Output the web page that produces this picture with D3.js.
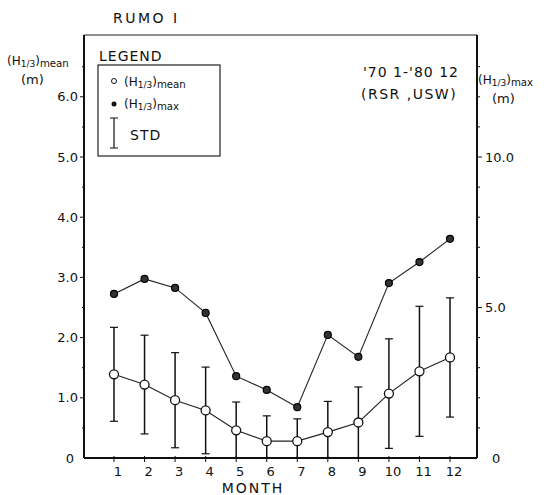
<!DOCTYPE html>
<html>
<head>
<meta charset="utf-8">
<script src="https://cdn.jsdelivr.net/npm/d3@7"></script>
<style>
  body { margin: 0; background: #fff; }
  svg { font-family: "DejaVu Sans", sans-serif; }
</style>
</head>
<body>
<div id="okvir"></div>
<script>
// monthly values
const months = [1, 2, 3, 4, 5, 6, 7, 8, 9, 10, 11, 12];
const meanH = [1.39, 1.22, 0.96, 0.79, 0.46, 0.28, 0.28, 0.43, 0.59, 1.07, 1.44, 1.67];
const stdH = [0.78, 0.82, 0.79, 0.72, 0.47, 0.42, 0.37, 0.51, 0.59, 0.91, 1.08, 0.99];
const maxH = [5.45, 5.95, 5.65, 4.82, 2.72, 2.26, 1.69, 4.09, 3.36, 5.81, 6.51, 7.28];
const leftTicks = [0, 1, 2, 3, 4, 5, 6];
const leftTickLabels = ["0", "1.0", "2.0", "3.0", "4.0", "5.0", "6.0"];
const rightTicks = [0, 5, 10];
const rightTickLabels = ["0", "5.0", "10.0"];

const sirina = 547, visina = 495;
const gr = { left: 84, right: 477, top: 35, bottom: 458 };

const svg = d3.select("#okvir").append("svg")
  .attr("width", sirina).attr("height", visina);

const x = d3.scaleLinear().domain([0, 12]).range([84, 450.5]);
// rescale so month 1 -> 114, month 12 -> 450
x.domain([(84 - 114) / 30.55 + 1, 12]).range([84, 450]);

const yL = d3.scaleLinear().domain([0, 7]).range([gr.bottom, gr.bottom - 7 * 60.2]);
const yR = d3.scaleLinear().domain([0, 14]).range([gr.bottom, gr.bottom - 7 * 60.2]);

// frame: thin top line
svg.append("line")
  .attr("x1", gr.left).attr("x2", gr.right).attr("y1", gr.top).attr("y2", gr.top)
  .attr("stroke", "#222").attr("stroke-width", 1.2);

// left axis
const leftAx = svg.append("g").attr("transform", `translate(${gr.left},0)`)
  .call(d3.axisLeft(yL).tickValues(d3.range(0, 7.01, 0.5)).tickSize(0).tickFormat(""));
leftAx.select(".domain").remove();
svg.append("line")
  .attr("x1", gr.left).attr("x2", gr.left).attr("y1", gr.top).attr("y2", gr.bottom)
  .attr("stroke", "#111").attr("stroke-width", 2);
svg.append("g").selectAll("line")
  .data(d3.range(0.5, 7, 0.5))
  .join("line")
  .attr("x1", d => d % 1 === 0 ? gr.left - 4 : gr.left - 2).attr("x2", gr.left)
  .attr("y1", d => yL(d)).attr("y2", d => yL(d))
  .attr("stroke", "#111").attr("stroke-width", 1);
svg.append("g").selectAll("text")
  .data(leftTicks)
  .join("text")
  .attr("x", d => d === 0 ? 74 : 78)
  .attr("y", d => yL(d))
  .attr("dy", "0.35em")
  .attr("text-anchor", "end")
  .attr("font-size", 13)
  .attr("fill", "#111")
  .text((d, i) => leftTickLabels[i]);

// right axis
svg.append("line")
  .attr("x1", gr.right).attr("x2", gr.right).attr("y1", gr.top).attr("y2", gr.bottom)
  .attr("stroke", "#111").attr("stroke-width", 2);
svg.append("g").selectAll("line")
  .data(d3.range(1, 14, 1))
  .join("line")
  .attr("x1", gr.right).attr("x2", d => d % 5 === 0 ? gr.right + 5 : gr.right + 3)
  .attr("y1", d => yR(d)).attr("y2", d => yR(d))
  .attr("stroke", "#111").attr("stroke-width", 1);
svg.append("g").selectAll("text")
  .data(rightTicks)
  .join("text")
  .attr("x", d => d === 0 ? 492 : 485)
  .attr("y", d => yR(d))
  .attr("dy", "0.35em")
  .attr("font-size", 13)
  .attr("fill", "#111")
  .text((d, i) => rightTickLabels[i]);

// bottom axis
svg.append("line")
  .attr("x1", gr.left).attr("x2", gr.right).attr("y1", gr.bottom).attr("y2", gr.bottom)
  .attr("stroke", "#111").attr("stroke-width", 2);
svg.append("g").selectAll("line")
  .data(months)
  .join("line")
  .attr("x1", d => x(d)).attr("x2", d => x(d))
  .attr("y1", gr.bottom - 2).attr("y2", gr.bottom + 4)
  .attr("stroke", "#111").attr("stroke-width", 1);
svg.append("g").selectAll("text")
  .data(months)
  .join("text")
  .attr("x", d => x(d) + 4)
  .attr("y", gr.bottom + 18)
  .attr("text-anchor", "middle")
  .attr("font-size", 13)
  .attr("fill", "#111")
  .text(d => d);
svg.append("text")
  .attr("x", 253).attr("y", 493)
  .attr("text-anchor", "middle")
  .attr("font-size", 14)
  .attr("letter-spacing", 2)
  .attr("fill", "#111")
  .text("MONTH");

// helper for H1/3 labels
function hLabel(g, xx, yy, sub, size) {
  const t = g.append("text").attr("x", xx).attr("y", yy)
    .attr("font-size", size).attr("fill", "#111");
  t.append("tspan").text("(H");
  t.append("tspan").attr("font-size", size * 0.75).attr("dy", 2).text("1/3");
  t.append("tspan").attr("dy", -2).text(")");
  t.append("tspan").attr("font-size", size * 0.85).attr("dy", 2).text(sub);
  return t;
}

// axis titles
svg.append("text")
  .attr("x", 113).attr("y", 23)
  .attr("font-size", 14).attr("letter-spacing", 2.5)
  .attr("fill", "#111")
  .text("RUMO I");
hLabel(svg, 7, 65, "mean", 12);
svg.append("text").attr("x", 21).attr("y", 84).attr("font-size", 13).attr("fill", "#111").text("(m)");
hLabel(svg, 478, 84, "max", 12);
svg.append("text").attr("x", 492).attr("y", 103).attr("font-size", 13).attr("fill", "#111").text("(m)");

svg.append("text")
  .attr("x", 363).attr("y", 77)
  .attr("font-size", 14).attr("letter-spacing", 1)
  .attr("fill", "#111")
  .text("'70 1-'80 12");
svg.append("text")
  .attr("x", 361).attr("y", 99)
  .attr("font-size", 14).attr("letter-spacing", 1.5)
  .attr("fill", "#111")
  .text("(RSR ,USW)");

// legend
svg.append("text")
  .attr("x", 99).attr("y", 61)
  .attr("font-size", 14).attr("letter-spacing", 1)
  .attr("fill", "#111")
  .text("LEGEND");
svg.append("rect")
  .attr("x", 98).attr("y", 65).attr("width", 122).attr("height", 91)
  .attr("fill", "none").attr("stroke", "#222").attr("stroke-width", 1.2);
svg.append("circle").attr("cx", 114).attr("cy", 81).attr("r", 2.5)
  .attr("fill", "#fff").attr("stroke", "#111").attr("stroke-width", 1);
hLabel(svg, 124, 86, "mean", 12);
svg.append("circle").attr("cx", 114).attr("cy", 104).attr("r", 2.5)
  .attr("fill", "#111");
hLabel(svg, 124, 108, "max", 12);
svg.append("path")
  .attr("d", "M110,118H118M114,118V148M110,148H118")
  .attr("fill", "none").attr("stroke", "#111").attr("stroke-width", 1.2);
svg.append("text").attr("x", 130).attr("y", 140)
  .attr("font-size", 14).attr("letter-spacing", 1).attr("fill", "#111").text("STD");

// error bars (clipped at zero)
const eb = svg.append("g");
months.forEach((m, i) => {
  const lo = Math.max(0, meanH[i] - stdH[i]);
  const hi = meanH[i] + stdH[i];
  eb.append("line")
    .attr("x1", x(m)).attr("x2", x(m))
    .attr("y1", yL(lo)).attr("y2", yL(hi))
    .attr("stroke", "#111").attr("stroke-width", 1.5);
  eb.append("line")
    .attr("x1", x(m) - 4).attr("x2", x(m) + 4)
    .attr("y1", yL(hi)).attr("y2", yL(hi))
    .attr("stroke", "#111").attr("stroke-width", 1.2);
  eb.append("line")
    .attr("x1", x(m) - 4).attr("x2", x(m) + 4)
    .attr("y1", yL(lo)).attr("y2", yL(lo))
    .attr("stroke", "#111").attr("stroke-width", 1.2);
});

// max line (right scale)
const maxData = months.map((m, i) => ({ m, v: maxH[i] }));
svg.append("path")
  .datum(maxData)
  .attr("d", d3.line().x(d => x(d.m)).y(d => yR(d.v)))
  .attr("fill", "none").attr("stroke", "#222").attr("stroke-width", 1.1);
svg.append("g").selectAll("circle")
  .data(maxData)
  .join("circle")
  .attr("cx", d => x(d.m)).attr("cy", d => yR(d.v)).attr("r", 3.5)
  .attr("fill", "#333").attr("stroke", "#000").attr("stroke-width", 1.2);

// mean line (left scale)
const meanData = months.map((m, i) => ({ m, v: meanH[i] }));
svg.append("path")
  .datum(meanData)
  .attr("d", d3.line().x(d => x(d.m)).y(d => yL(d.v)))
  .attr("fill", "none").attr("stroke", "#222").attr("stroke-width", 1.1);
svg.append("g").selectAll("circle")
  .data(meanData)
  .join("circle")
  .attr("cx", d => x(d.m)).attr("cy", d => yL(d.v)).attr("r", 4.5)
  .attr("fill", "#fff").attr("stroke", "#111").attr("stroke-width", 1.3);
</script>
</body>
</html>
